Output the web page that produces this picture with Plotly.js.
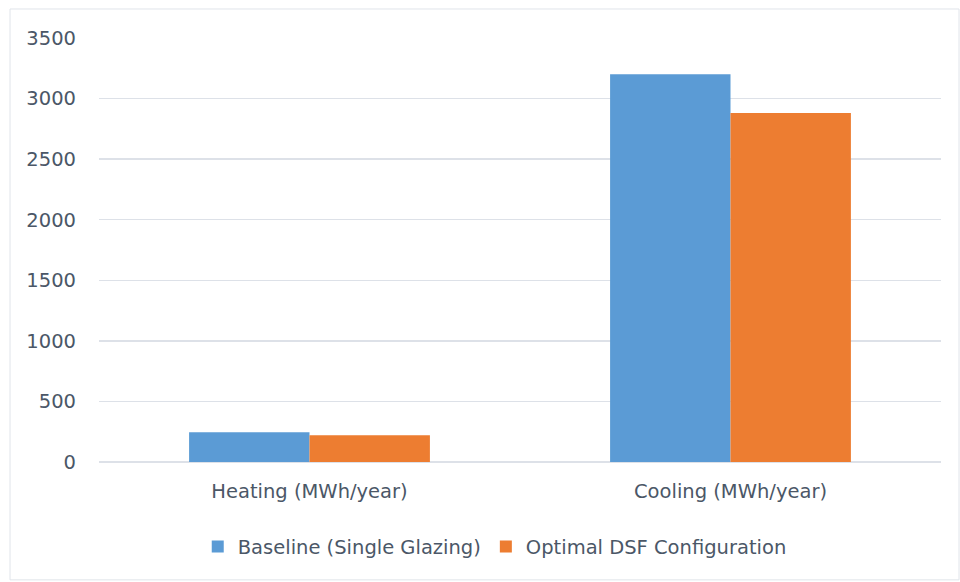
<!DOCTYPE html>
<html><head><meta charset="utf-8">
<script src="https://cdn.plot.ly/plotly-3.0.1.min.js"></script>
<style>html,body{margin:0;padding:0;background:#fff;}#chart{width:960px;height:582px;}</style>
</head><body><div id="chart"></div>
<script>
const categories = ["Heating (MWh/year)", "Cooling (MWh/year)"];
const seriesNames = ["Baseline (Single Glazing)", "Optimal DSF Configuration"];
const baseline = [245, 3200];
const optimal = [220, 2880];
const yTicks = [0, 500, 1000, 1500, 2000, 2500, 3000, 3500];

const FONT = "'DejaVu Sans', 'Open Sans', sans-serif";
const TXT = "#4b5767";
const FS = 19.5;
const traces = [
  {type: "bar", name: seriesNames[0], x: categories, y: baseline,
   marker: {color: "#5b9bd5", line: {width: 0}}},
  {type: "bar", name: seriesNames[1], x: categories, y: optimal,
   marker: {color: "#ed7d31", line: {width: 0}}}
];
const layout = {
  width: 960, height: 582,
  margin: {l: 99, r: 19, t: 38, b: 120},
  paper_bgcolor: "#ffffff", plot_bgcolor: "#ffffff",
  font: {family: FONT, size: FS, color: TXT},
  barmode: "group", bargap: 0.428, bargroupgap: 0,
  showlegend: true,
  legend: {orientation: "h", x: 0.47, xanchor: "center", y: -0.2, yanchor: "middle",
           font: {family: FONT, size: FS, color: TXT}, itemwidth: 30, traceorder: "normal"},
  xaxis: {showgrid: false, showline: false, zeroline: false, ticks: "",
          ticklabelstandoff: 15, tickfont: {family: FONT, size: FS, color: TXT}},
  yaxis: {range: [0, 3500], tickvals: yTicks, ticktext: yTicks.map(String),
          showgrid: true, gridcolor: "#dde1e8", gridwidth: 1.3,
          zeroline: true, zerolinecolor: "#dde1e8", zerolinewidth: 1.3,
          showline: false, ticks: "", ticklabelstandoff: 22,
          tickfont: {family: FONT, size: FS, color: TXT}},
  shapes: [{type: "rect", xref: "paper", yref: "paper",
            x0: -0.1057, x1: 1.0214, y0: -0.278, y1: 1.0684,
            line: {color: "#e0e4ea", width: 1}, fillcolor: "rgba(0,0,0,0)", layer: "below"}]
};
Plotly.newPlot("chart", traces, layout, {displayModeBar: false, staticPlot: true});
</script>
</body></html>
